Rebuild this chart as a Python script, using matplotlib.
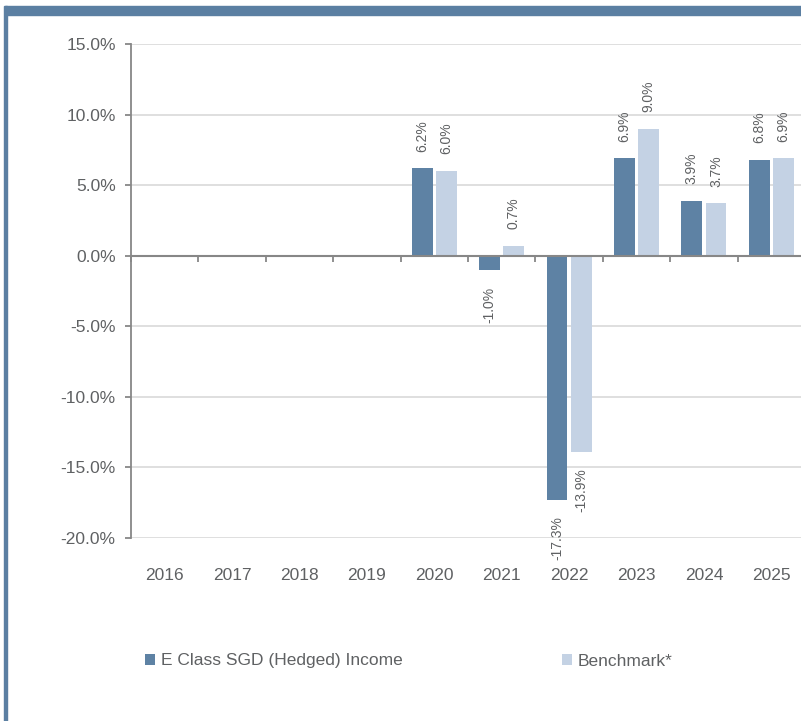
import numpy as np
import matplotlib
matplotlib.use('Agg')
from matplotlib import pyplot as plt
from matplotlib.patches import Rectangle
from matplotlib.ticker import FixedLocator

plt.rcParams['font.family'] = ['Liberation Sans', 'DejaVu Sans']
plt.rcParams['axes.unicode_minus'] = False

years = ['2016', '2017', '2018', '2019', '2020', '2021', '2022', '2023', '2024', '2025']
fund = [np.nan, np.nan, np.nan, np.nan, 6.2, -1.0, -17.3, 6.9, 3.9, 6.8]
bench = [np.nan, np.nan, np.nan, np.nan, 6.0, 0.7, -13.9, 9.0, 3.7, 6.9]
series_names = ['E Class SGD (Hedged) Income', 'Benchmark*']
y_ticks = [-20, -15, -10, -5, 0, 5, 10, 15]

dark = '#5e82a4'
light = '#c4d2e4'
frame = '#5b7fa2'
txt = '#5f6163'
axis_col = '#878787'
grid_col = '#d9d9d9'
fs = 12.5

fig = plt.figure(figsize=(8.01, 7.21), dpi=100)
# page frame: band on top, line down the left side
fig.patches.append(Rectangle((5 / 801, 706 / 721), 1, 9 / 721, transform=fig.transFigure,
                             color=frame, zorder=0))
fig.patches.append(Rectangle((4 / 801, 0), 3 / 801, 715 / 721, transform=fig.transFigure,
                             color=frame, zorder=0))

ax = fig.add_axes([131 / 801, 183 / 721, 674 / 801, 494 / 721])

x = np.arange(len(years))
w = 0.31
off = 0.18
b1 = ax.bar(x - off, fund, w, color=dark, label=series_names[0], zorder=3)
b2 = ax.bar(x + off, bench, w, color=light, label=series_names[1], zorder=3)

for xs, vals in ((x - off, fund), (x + off, bench)):
    for xi, v in zip(xs, vals):
        if np.isnan(v):
            continue
        ax.annotate('%.1f%%' % v, (xi, v), xytext=(0, 12 if v >= 0 else -12),
                    textcoords='offset points', rotation=90, ha='center',
                    va='bottom' if v >= 0 else 'top', fontsize=10, color=txt,
                    annotation_clip=False)

ax.set_xlim(-0.5, len(years) - 0.5)
ax.set_ylim(-20, 15)

ax.set_yticks(y_ticks)
ax.set_yticklabels(['%.1f%%' % t for t in y_ticks])
for t in y_ticks:
    if t != 0:
        ax.axhline(t, color=grid_col, lw=1.2, zorder=1)

ax.spines['top'].set_visible(False)
ax.spines['right'].set_visible(False)
ax.spines['left'].set_color(axis_col)
ax.spines['left'].set_linewidth(1.3)
ax.spines['bottom'].set_position(('data', 0))
ax.spines['bottom'].set_color(axis_col)
ax.spines['bottom'].set_linewidth(1.5)
ax.spines['bottom'].set_zorder(4)

ax.set_xticks(x)
ax.set_xticklabels([])
ax.tick_params(axis='x', which='major', length=0)
ax.xaxis.set_minor_locator(FixedLocator(np.arange(len(years) + 1) - 0.5))
ax.tick_params(axis='x', which='minor', direction='out', length=4, width=1.3, color=axis_col)
ax.tick_params(axis='y', direction='out', length=4, width=1.3, color=axis_col,
               labelsize=fs, labelcolor=txt, pad=7)

# year labels sit under the plot area, not at the zero line
for xi, yr in zip(x, years):
    ax.annotate(yr, (xi, -20), xytext=(0, -27), textcoords='offset points',
                ha='center', va='center', fontsize=fs, color=txt, annotation_clip=False)

fig.legend(handles=[b1, b2], labels=series_names, loc='center left',
           bbox_to_anchor=(145 / 801, 60 / 721), ncol=2, frameon=False,
           fontsize=fs, handlelength=0.55, handleheight=0.55, handletextpad=0.35,
           columnspacing=9.2, borderpad=0, borderaxespad=0, labelcolor=txt)

fig.savefig('out.png', dpi=100)
